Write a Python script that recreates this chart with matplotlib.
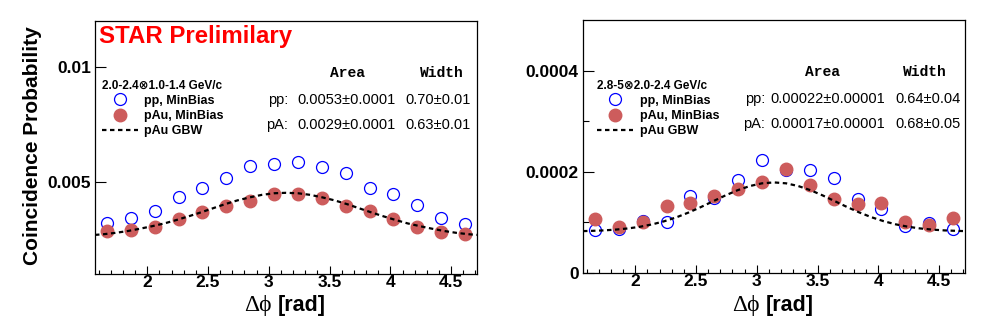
import matplotlib
matplotlib.use("Agg")
import matplotlib.pyplot as plt
from matplotlib.ticker import MultipleLocator, FixedLocator
from matplotlib.font_manager import FontProperties

plt.rcParams['font.family'] = ['Liberation Sans', 'DejaVu Sans']

# bin centres (pi/2 .. 3pi/2, 16 bins)
dphi = [1.669, 1.865, 2.062, 2.258, 2.454, 2.651, 2.847, 3.043,
        3.240, 3.436, 3.633, 3.829, 4.025, 4.222, 4.418, 4.614]

# panel 1: 2.0-2.4 x 1.0-1.4 GeV/c
pp_lo = [0.00322, 0.00343, 0.00374, 0.00435, 0.00474, 0.00517, 0.00571, 0.00580,
         0.00585, 0.00565, 0.00539, 0.00474, 0.00448, 0.00400, 0.00343, 0.00318]
pa_lo = [0.00285, 0.00293, 0.00305, 0.00337, 0.00371, 0.00397, 0.00418, 0.00449,
         0.00449, 0.00432, 0.00395, 0.00376, 0.00341, 0.00304, 0.00283, 0.00275]

# panel 2: 2.8-5 x 2.0-2.4 GeV/c
pp_hi = [8.49e-5, 8.75e-5, 1.026e-4, 1.013e-4, 1.52e-4, 1.487e-4, 1.842e-4, 2.237e-4,
         2.04e-4, 2.04e-4, 1.882e-4, 1.454e-4, 1.257e-4, 9.28e-5, 9.93e-5, 8.75e-5]
pa_hi = [1.059e-4, 9.14e-5, 1.013e-4, 1.322e-4, 1.388e-4, 1.513e-4, 1.658e-4, 1.796e-4,
         2.046e-4, 1.730e-4, 1.467e-4, 1.355e-4, 1.375e-4, 1.013e-4, 9.41e-5, 1.079e-4]

# GBW curve
gbw_x = [1.571, 1.642, 1.742, 1.842, 1.942, 2.042, 2.142, 2.242, 2.342, 2.442, 2.542,
         2.642, 2.742, 2.842, 2.942, 3.042, 3.142, 3.242, 3.342, 3.442, 3.542, 3.642,
         3.742, 3.842, 3.942, 4.042, 4.142, 4.242, 4.342, 4.442, 4.542, 4.642, 4.712]
gbw_lo = [0.00270, 0.00273, 0.00279, 0.00287, 0.00297, 0.00308, 0.00320, 0.00335,
          0.00351, 0.00368, 0.00386, 0.00404, 0.00420, 0.00433, 0.00444, 0.00451,
          0.00453,
          0.00451, 0.00444, 0.00433, 0.00420, 0.00404, 0.00386, 0.00368, 0.00351,
          0.00335, 0.00320, 0.00308, 0.00297, 0.00287, 0.00279, 0.00273, 0.00270]
gbw_hi = [8.28e-5, 8.33e-5, 8.42e-5, 8.58e-5, 8.81e-5, 9.15e-5, 9.62e-5, 1.025e-4,
          1.103e-4, 1.198e-4, 1.305e-4, 1.419e-4, 1.533e-4, 1.636e-4, 1.718e-4, 1.772e-4,
          1.79e-4,
          1.772e-4, 1.718e-4, 1.636e-4, 1.533e-4, 1.419e-4, 1.305e-4, 1.198e-4, 1.103e-4,
          1.025e-4, 9.62e-5, 9.15e-5, 8.81e-5, 8.58e-5, 8.42e-5, 8.33e-5, 8.28e-5]

headers = ["2.0-2.4\u22971.0-1.4 GeV/c", "2.8-5\u22972.0-2.4 GeV/c"]
area_pp = ["0.0053\u00b10.0001", "0.00022\u00b10.00001"]
area_pa = ["0.0029\u00b10.0001", "0.00017\u00b10.00001"]
width_pp = ["0.70\u00b10.01", "0.64\u00b10.04"]
width_pa = ["0.63\u00b10.01", "0.68\u00b10.05"]
y_lims = [(0.001, 0.012), (0.0, 0.0005)]
y_major = [[0.005, 0.01], [0.0, 0.0002, 0.0004]]
y_labels = [["0.005", "0.01"], ["0", "0.0002", "0.0004"]]
y_minor = [[], [0.0001, 0.0003]]

W, H = 996, 322
fig = plt.figure(figsize=(W / 100, H / 100), dpi=100)
# axes boxes in pixels: left, top, right, bottom
boxes = [(95, 21, 477, 274), (583, 20, 965, 273)]

# text layout (axes fractions) per panel
leg_anchor = [(0.018, 0.768), (0.037, 0.764)]
area_x = [0.662, 0.626]
width_x = [0.908, 0.895]
lab_x = [0.505, 0.476]
aval_x = [0.529, 0.491]
wval_x = [0.812, 0.819]

bold9 = FontProperties(family=['Liberation Sans', 'DejaVu Sans'], weight='bold', size=9)
bold85 = FontProperties(family=['Liberation Sans', 'DejaVu Sans'], weight='bold', size=8.5)

panels = [(pp_lo, pa_lo, gbw_lo), (pp_hi, pa_hi, gbw_hi)]
for i, (pp, pa, gbw) in enumerate(panels):
    l, t, r, b = boxes[i]
    ax = fig.add_axes([l / W, 1 - b / H, (r - l) / W, (b - t) / H])
    h1, = ax.plot(dphi, pp, 'o', mfc='none', mec='#0000ff', mew=0.9, ms=8.6, zorder=2)
    h2, = ax.plot(dphi, pa, 'o', mfc='#cd5c5c', mec='#cd5c5c', ms=9, zorder=3)
    h3, = ax.plot(gbw_x, gbw, color='black', lw=1.6, ls=(0, (2, 1.6)), zorder=4)

    ax.set_xlim(1.5708, 4.7124)
    ax.set_ylim(*y_lims[i])
    ax.xaxis.set_major_locator(FixedLocator([2, 2.5, 3, 3.5, 4, 4.5]))
    ax.set_xticklabels(["2", "2.5", "3", "3.5", "4", "4.5"])
    ax.xaxis.set_minor_locator(MultipleLocator(0.1))
    ax.yaxis.set_major_locator(FixedLocator(y_major[i]))
    ax.set_yticklabels(y_labels[i])
    ax.yaxis.set_minor_locator(FixedLocator(y_minor[i]))
    ax.tick_params(axis='both', which='both', direction='in', width=0.8,
                   top=False, right=False)
    ax.tick_params(axis='x', which='major', length=5.5, pad=1, labelsize=12.5)
    ax.tick_params(axis='x', which='minor', length=3)
    ax.tick_params(axis='y', which='major', length=8, pad=3, labelsize=12.5)
    ax.tick_params(axis='y', which='minor', length=4.5)
    for lab in ax.get_xticklabels() + ax.get_yticklabels():
        lab.set_fontweight('bold')
    for s in ax.spines.values():
        s.set_linewidth(0.9)

    ax.legend([h1, h2, h3], ["pp, MinBias", "pAu, MinBias", "pAu GBW"],
              title=headers[i], title_fontproperties=bold85, prop=bold9,
              loc='upper left', bbox_to_anchor=leg_anchor[i], frameon=False,
              alignment='left', numpoints=1, handlelength=2.9, handletextpad=0.5,
              labelspacing=0.25, borderpad=0, borderaxespad=0)

    # fit table
    ax.text(area_x[i], 0.778, "Area", transform=ax.transAxes, ha='center',
            va='baseline', family='Liberation Mono', weight='bold', fontsize=10.5)
    ax.text(width_x[i], 0.778, "Width", transform=ax.transAxes, ha='center',
            va='baseline', family='Liberation Mono', weight='bold', fontsize=10.5)
    for yy, lab, av, wv in [(0.670, "pp:", area_pp[i], width_pp[i]),
                            (0.575, "pA:", area_pa[i], width_pa[i])]:
        ax.text(lab_x[i], yy, lab, transform=ax.transAxes, ha='right',
                va='baseline', fontsize=10.5)
        ax.text(aval_x[i], yy, av, transform=ax.transAxes, ha='left',
                va='baseline', fontsize=10.5)
        ax.text(wval_x[i], yy, wv, transform=ax.transAxes, ha='left',
                va='baseline', fontsize=10.5)

    if i == 0:
        ax.text(0.0105, 0.914, "STAR Prelimilary", transform=ax.transAxes,
                color='#ff0000', weight='bold', fontsize=17.3, va='baseline')

    # x axis title
    fig.text((l - 95 + 244) / W, 1 - 311.5 / H, "\u0394\u03d5",
             family=['Liberation Serif', 'DejaVu Serif'], fontsize=17, va='baseline')
    fig.text((l - 95 + 278) / W, 1 - 311.5 / H, "[rad]", weight='bold',
             fontsize=15.5, va='baseline')

fig.text(33 / W, 1 - 146 / H, "Coincidence Probability", rotation=90,
         ha='center', va='center', weight='bold', fontsize=15)

fig.savefig("out.png", dpi=100, facecolor='white')
